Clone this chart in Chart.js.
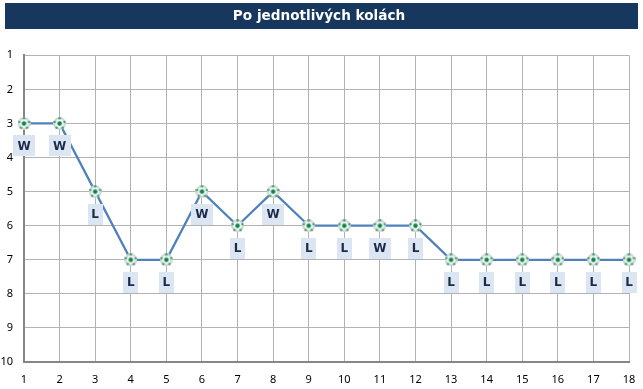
<!DOCTYPE html>
<html>
<head>
<meta charset="utf-8">
<script src="https://cdn.jsdelivr.net/npm/chart.js@4"></script>
<style>
  html, body { margin: 0; padding: 0; background: #fff; }
  #wrap { width: 643px; height: 389px; }
</style>
</head>
<body>
<div id="wrap"><canvas id="rounds" width="643" height="389"></canvas></div>
<script>
const rounds = ['1','2','3','4','5','6','7','8','9','10','11','12','13','14','15','16','17','18'];
const positions = [3,3,5,7,7,5,6,5,6,6,6,6,7,7,7,7,7,7];
const results = ['W','W','L','L','L','W','L','W','L','L','W','L','L','L','L','L','L','L'];
const chartTitle = 'Po jednotlivých kolách';

// little football used as the point marker
function makeBall() {
  const c = document.createElement('canvas');
  c.width = 13; c.height = 13;
  const g = c.getContext('2d');
  g.fillStyle = '#cfd6d3';
  g.beginPath(); g.arc(6.5, 6.5, 6.4, 0, Math.PI * 2); g.fill();
  g.fillStyle = '#f2f4f3';
  g.beginPath(); g.arc(6.5, 6.5, 4.4, 0, Math.PI * 2); g.fill();
  g.fillStyle = '#3f9f70';
  for (let i = 0; i < 5; i++) {
    const a = -Math.PI / 2 + i * Math.PI * 2 / 5;
    g.beginPath();
    g.arc(6.5 + Math.cos(a) * 5.2, 6.5 + Math.sin(a) * 5.2, 1.2, 0, Math.PI * 2);
    g.fill();
  }
  g.fillStyle = '#0f8449';
  g.beginPath(); g.arc(6.5, 6.5, 2.2, 0, Math.PI * 2); g.fill();
  return c;
}

// dark band behind the title
const titleBand = {
  id: 'titleBand',
  beforeDraw(chart) {
    const g = chart.ctx;
    g.save();
    g.fillStyle = '#17375e';
    g.fillRect(5, 3, 633, 26);
    g.restore();
  }
};

// W / L boxes under each point
const resultBoxes = {
  id: 'resultBoxes',
  afterDatasetsDraw(chart) {
    const g = chart.ctx;
    const pts = chart.getDatasetMeta(0).data;
    g.save();
    g.font = 'bold 12px "DejaVu Sans"';
    g.textAlign = 'center';
    g.textBaseline = 'middle';
    pts.forEach((p, i) => {
      const w = results[i] === 'W' ? 22 : 15;
      g.fillStyle = '#dce6f2';
      g.fillRect(Math.round(p.x - w / 2), Math.round(p.y + 12), w, 21);
      g.fillStyle = '#1b2a4a';
      g.fillText(results[i], p.x, p.y + 23);
    });
    g.restore();
  }
};

new Chart(document.getElementById('rounds'), {
  type: 'line',
  data: {
    labels: rounds,
    datasets: [{
      data: positions,
      borderColor: '#4f81bd',
      borderWidth: 2.25,
      tension: 0,
      clip: false,
      pointStyle: makeBall(),
      pointRadius: 6
    }]
  },
  plugins: [titleBand, resultBoxes],
  options: {
    responsive: false,
    animation: false,
    layout: { padding: { top: 0, left: 0, right: 5, bottom: 0 } },
    plugins: {
      legend: { display: false },
      tooltip: { enabled: false },
      title: {
        display: true,
        text: chartTitle,
        color: '#ffffff',
        font: { family: '"DejaVu Sans"', size: 13.6, weight: 'bold' },
        padding: { top: 8, bottom: 31 }
      }
    },
    scales: {
      x: {
        offset: false,
        afterFit(s) { s.height = 27; s.paddingRight = 14; },
        grid: { color: '#b2b2b2', lineWidth: 1, drawTicks: false },
        border: { color: '#868686', width: 2 },
        ticks: {
          color: '#000',
          font: { family: '"Noto Sans"', size: 11 },
          maxRotation: 0,
          autoSkip: false,
          padding: 11
        }
      },
      y: {
        reverse: true,
        min: 1,
        max: 10,
        afterFit(s) { s.width = 24; },
        grid: { color: '#b2b2b2', lineWidth: 1, drawTicks: false },
        border: { color: '#868686', width: 2 },
        ticks: {
          color: '#000',
          font: { family: '"Noto Sans"', size: 11 },
          stepSize: 1,
          padding: 11
        }
      }
    }
  }
});
</script>
</body>
</html>
